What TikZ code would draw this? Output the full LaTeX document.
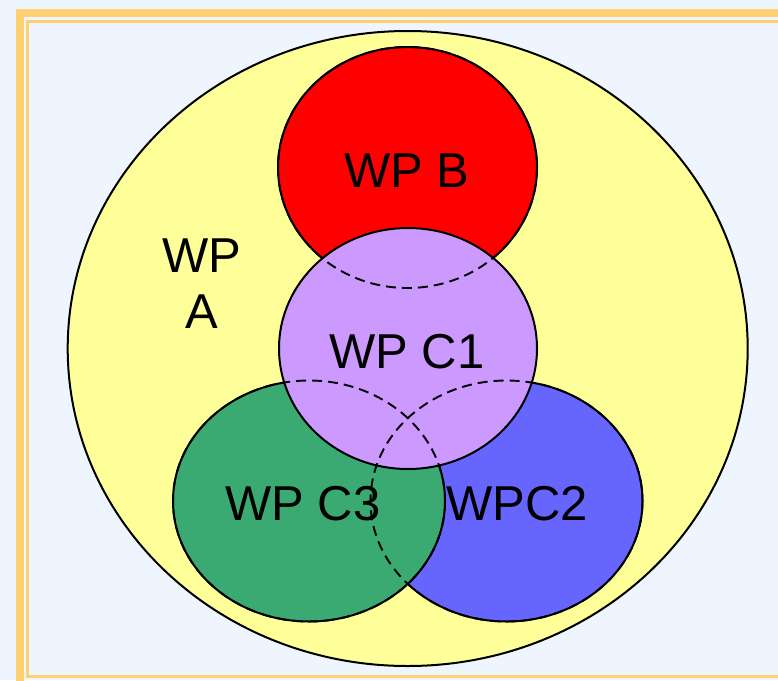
\documentclass[tikz,border=0pt]{standalone}
\usepackage{fontspec}
\setmainfont{Liberation Sans}
\usetikzlibrary{shapes.geometric}
\definecolor{bgblue}{HTML}{EEF5FF}
\definecolor{frameorange}{HTML}{FFD070}
\definecolor{wpa}{HTML}{FFFF99}
\definecolor{wpb}{HTML}{FF0000}
\definecolor{wpcone}{HTML}{CC99FF}
\definecolor{wpctwo}{HTML}{6666FF}
\definecolor{wpcthree}{HTML}{3AAA72}
\tikzset{
  blob/.style={draw=black, line width=2pt},
  hidden/.style={draw=black, line width=1.9pt, dash pattern=on 10pt off 6pt},
  label/.style={font=\fontsize{49}{56}\selectfont, text=black, align=center, inner sep=0pt},
}
\begin{document}
\begin{tikzpicture}[x=1pt,y=-1pt]
\useasboundingbox (0,0) rectangle (778,680);
\fill[bgblue] (0,0) rectangle (778,680);
% frame
\draw[frameorange, line width=8pt] (19.7,690) -- (19.7,13.3) -- (790,13.3);
\draw[frameorange, line width=3pt] (790,21.5) -- (27.5,21.5) -- (27.5,676) -- (790,676);
% circles
\fill[wpa] (407.7,348.5) ellipse [x radius=340, y radius=317.5];
\draw[blob] (407.7,348.5) ellipse [x radius=340, y radius=317.5];
\draw[blob, fill=wpb] (407.5,167.5) ellipse [x radius=129.5, y radius=120.5];
\draw[blob, fill=wpctwo] (506.5,501) ellipse [x radius=136, y radius=120.5];
\draw[blob, fill=wpcthree] (309,501) ellipse [x radius=136, y radius=120.5];
\draw[blob, fill=wpcone] (408,348.5) ellipse [x radius=129, y radius=120.5];
% hidden outlines
\draw[hidden] (407.5,167.5) ellipse [x radius=129.5, y radius=120.5];
\draw[hidden] (506.5,501) ellipse [x radius=136, y radius=120.5];
\draw[hidden] (309,501) ellipse [x radius=136, y radius=120.5];
% labels
\node[label, anchor=base] (la) at (202,328) {WP\\A};
\node[label, anchor=base] (lb) at (407,187) {WP B};
\node[label, anchor=base] (lc1) at (407,368) {WP C1};
\node[label, anchor=base] (lc3) at (303,520) {WP C3};
\node[label, anchor=base] (lc2) at (517,520) {WPC2};
\end{tikzpicture}
\end{document}
